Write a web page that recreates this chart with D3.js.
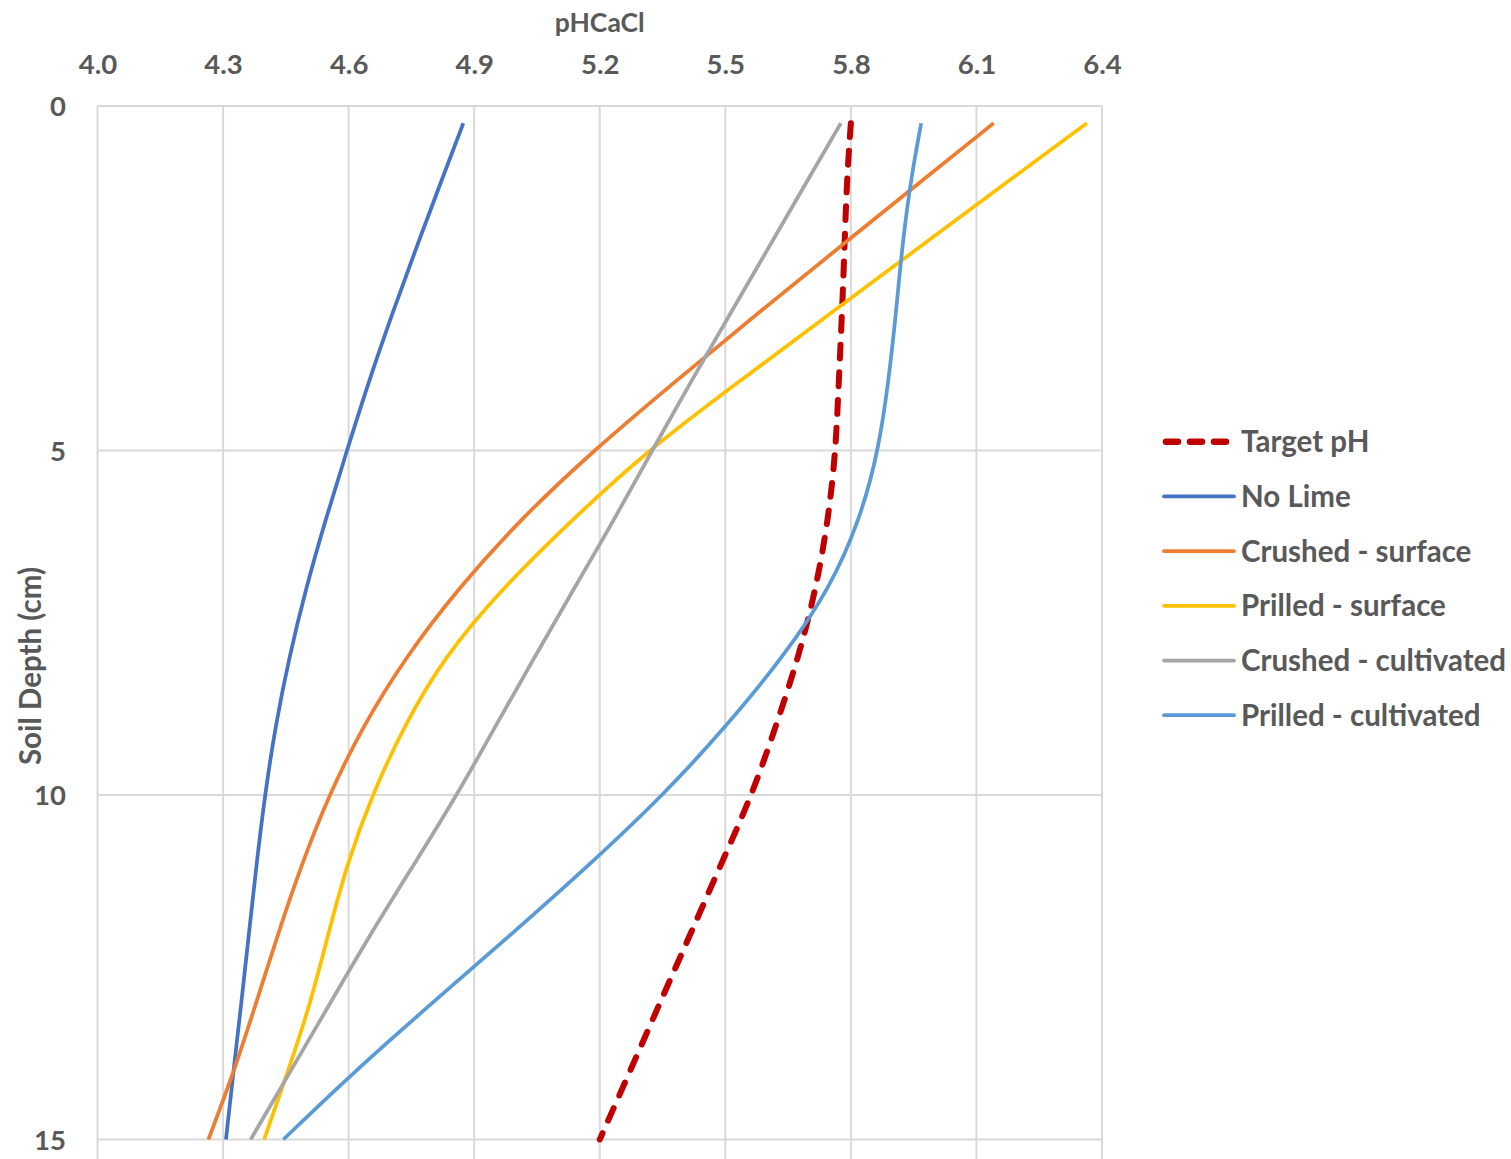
<!DOCTYPE html>
<html>
<head>
<meta charset="utf-8">
<script src="https://cdn.jsdelivr.net/npm/d3@7"></script>
<style>
  html, body { margin: 0; padding: 0; background: #ffffff; }
  svg { display: block; }
  text { font-family: Lato, "Open Sans", sans-serif; font-weight: 700; fill: #595959; }
</style>
</head>
<body>
<script>
// Soil depth (cm) at which each profile is sampled
const depths = [0.25, 1, 2, 3, 4, 5, 6, 7, 8, 9, 10, 11, 12, 13, 14, 15];

// pHCaCl profiles down the soil
const targetPH            = [5.800, 5.791, 5.785, 5.779, 5.771, 5.764, 5.746, 5.717, 5.675, 5.621, 5.564, 5.490, 5.418, 5.345, 5.273, 5.200];
const noLime              = [4.874, 4.827, 4.765, 4.705, 4.648, 4.596, 4.545, 4.498, 4.458, 4.425, 4.400, 4.380, 4.362, 4.344, 4.325, 4.307];
const crushedSurface      = [6.141, 5.987, 5.783, 5.579, 5.380, 5.185, 5.010, 4.862, 4.736, 4.634, 4.553, 4.488, 4.432, 4.380, 4.327, 4.265];
const prilledSurface      = [6.364, 6.196, 5.975, 5.753, 5.533, 5.314, 5.135, 4.967, 4.828, 4.732, 4.656, 4.596, 4.552, 4.510, 4.456, 4.398];
const crushedCultivated   = [5.776, 5.704, 5.609, 5.513, 5.418, 5.325, 5.235, 5.139, 5.044, 4.951, 4.859, 4.757, 4.654, 4.558, 4.462, 4.366];
const prilledCultivated   = [5.968, 5.945, 5.923, 5.908, 5.890, 5.866, 5.822, 5.750, 5.638, 5.503, 5.352, 5.178, 4.993, 4.803, 4.616, 4.444];

// Axis ticks
const phTicks    = [4.0, 4.3, 4.6, 4.9, 5.2, 5.5, 5.8, 6.1, 6.4];
const depthTicks = [0, 5, 10, 15];

const seriesNames  = ["Target pH", "No Lime", "Crushed - surface", "Prilled - surface", "Crushed - cultivated", "Prilled - cultivated"];
const seriesValues = [targetPH, noLime, crushedSurface, prilledSurface, crushedCultivated, prilledCultivated];
const seriesColors = ["#C00000", "#4472C4", "#ED7D31", "#FFC000", "#A5A5A5", "#5B9BD5"];

const W = 1511, H = 1159;
const plot = { left: 97.5, right: 1102, top: 106, bottom15: 1139.5 };

const svg = d3.select("body").append("svg")
  .attr("width", W).attr("height", H)
  .attr("viewBox", `0 0 ${W} ${H}`);

const x = d3.scaleLinear().domain([4.0, 6.4]).range([plot.left, plot.right]);
const y = d3.scaleLinear().domain([0, 15]).range([plot.top, plot.bottom15]);
const depthMax = 15.3;   // plot area runs a little past the last tick

// Gridlines
const grid = svg.append("g").attr("stroke", "#D9D9D9").attr("stroke-width", 2);
grid.selectAll("line.v").data(phTicks).join("line")
  .attr("class", "v")
  .attr("x1", d => x(d)).attr("x2", d => x(d))
  .attr("y1", y(0)).attr("y2", y(depthMax));
grid.selectAll("line.h").data(depthTicks).join("line")
  .attr("class", "h")
  .attr("x1", x(4.0)).attr("x2", x(6.4))
  .attr("y1", d => y(d)).attr("y2", d => y(d));

// Top pH axis
const xAxis = d3.axisTop(x).tickValues(phTicks).tickFormat(d3.format(".1f")).tickSize(0).tickPadding(0);
const gx = svg.append("g").attr("transform", `translate(0, 74)`).call(xAxis);
gx.select(".domain").remove();
gx.selectAll("text").attr("font-size", 27.5).attr("fill", "#595959")
  .attr("font-family", "Lato, sans-serif").attr("font-weight", 700)
  .attr("dy", 0);

// Left depth axis
const yAxis = d3.axisLeft(y).tickValues(depthTicks).tickFormat(d3.format("d")).tickSize(0).tickPadding(0);
const gy = svg.append("g").attr("transform", `translate(66, 0)`).call(yAxis);
gy.select(".domain").remove();
gy.selectAll("text").attr("font-size", 27.5).attr("fill", "#595959")
  .attr("font-family", "Lato, sans-serif").attr("font-weight", 700)
  .attr("dy", "0.36em");

// Axis titles
svg.append("text")
  .attr("x", (plot.left + plot.right) / 2).attr("y", 31.5)
  .attr("text-anchor", "middle").attr("font-size", 26.5)
  .text("pHCaCl");
svg.append("text")
  .attr("transform", `translate(41, 666) rotate(-90)`)
  .attr("text-anchor", "middle").attr("font-size", 29.5)
  .text("Soil Depth (cm)");

// Profiles, smoothed through the sampled depths
const line = d3.line()
  .x(d => x(d.ph))
  .y(d => y(d.depth))
  .curve(d3.curveBasis);

const series = seriesNames.map((name, i) => ({
  name,
  color: seriesColors[i],
  dashed: i === 0,
  points: depths.map((depth, j) => ({ depth, ph: seriesValues[i][j] }))
}));

const lines = svg.append("g").attr("fill", "none");
lines.selectAll("path").data(series).join("path")
  .attr("d", d => line(d.points))
  .attr("stroke", d => d.color)
  .attr("stroke-width", d => d.dashed ? 6 : 3.75)
  .attr("stroke-linecap", d => d.dashed ? "round" : "butt")
  .each(function (d) {
    if (!d.dashed) return;
    // stretch the dash period slightly so the pattern finishes on a dash at 15 cm
    const len = this.getTotalLength();
    const n = Math.round(len / 28 - 0.25);
    const period = len / (n + 0.25);
    d3.select(this).attr("stroke-dasharray", `${period / 2},${period / 2}`);
  });

// Legend
const legend = svg.append("g");
const rows = legend.selectAll("g").data(series).join("g")
  .attr("transform", (d, i) => `translate(0, ${441.7 + i * 54.7})`);
rows.append("line")
  .attr("x1", d => d.dashed ? 1166 : 1164).attr("x2", d => d.dashed ? 1226 : 1234)
  .attr("y1", 0).attr("y2", 0)
  .attr("stroke", d => d.color)
  .attr("stroke-width", d => d.dashed ? 6.5 : 3.75)
  .attr("stroke-linecap", "round")
  .attr("stroke-dasharray", d => d.dashed ? "12,12" : null);
rows.append("text")
  .attr("x", 1241).attr("y", 10.5)
  .attr("font-size", 29.5)
  .text(d => d.name);
</script>
</body>
</html>
